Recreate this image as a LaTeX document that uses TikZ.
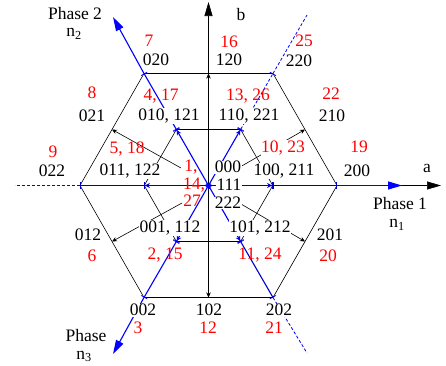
\documentclass[tikz,border=0pt]{standalone}
\usepackage{fontspec}
\setmainfont{Liberation Serif}
\usetikzlibrary{arrows.meta}
\begin{document}
\begin{tikzpicture}[x=1pt,y=-1pt,
  every node/.style={font=\rmfamily\fontsize{17.5}{19}\selectfont, inner sep=0.6pt},
  lab/.style={text=black},
  plab/.style={text=black, inner sep=0pt},
  wlab/.style={text=black, fill=white},
  num/.style={text=red},
  wnum/.style={text=red, fill=white},
  gridline/.style={black, line width=0.6pt},
  medvec/.style={black, line width=0.6pt, -{Stealth[length=5pt,width=4.5pt]}},
  smallvec/.style={blue, line width=1.1pt, {Bar[width=6pt,line width=0.7pt]}-{Stealth[length=5pt,width=5pt] Bar[width=7pt,line width=0.7pt]}},
  outseg/.style={blue, line width=1.1pt, {Bar[width=7pt,line width=0.7pt]}-{Bar[width=7pt,line width=0.7pt]}},
  dashseg/.style={blue, line width=0.8pt, dash pattern=on 3pt off 2pt},
  phasearrow/.style={blue, line width=1.1pt, -{Triangle[length=14pt,width=8pt]}},
  axisarrow/.style={black, line width=0.6pt, -{Triangle[length=14pt,width=8pt]}},
]
\useasboundingbox (0,0) rectangle (446,365);
% centre and vertices
\coordinate (O) at (208.5,185.5);
\coordinate (A200) at (337,185.5);
\coordinate (B220) at (273,73.5);
\coordinate (C020) at (144,73.5);
\coordinate (D022) at (80,185.5);
\coordinate (E002) at (144,297.5);
\coordinate (F202) at (273,297.5);
\coordinate (i100) at (272.75,185.5);
\coordinate (i110) at (240.6,129.5);
\coordinate (i010) at (176.4,129.5);
\coordinate (i011) at (144.25,185.5);
\coordinate (i001) at (176.4,241.5);
\coordinate (i101) at (240.6,241.5);
\coordinate (m210) at (305,129.5);
\coordinate (m120) at (208.5,73.5);
\coordinate (m021) at (112,129.5);
\coordinate (m012) at (112,241.5);
\coordinate (m102) at (208.5,297.5);
\coordinate (m201) at (305,241.5);
\coordinate (P1) at (402,185.5);
\coordinate (P2) at (113,17);
\coordinate (P3) at (113,354);
\coordinate (aend) at (441,185.5);
\coordinate (btop) at (208.5,2);
\coordinate (L180) at (15,185.5);
\coordinate (Q60) at (307,15);
\coordinate (Q300) at (307,353);
\coordinate (S021) at (181,168);
\coordinate (S012) at (182,203);
\coordinate (S210) at (240,167);
\coordinate (S201) at (241,204);

% hexagons
\draw[gridline] (A200) -- (B220) -- (C020) -- (D022) -- (E002) -- (F202) -- cycle;
\draw[gridline] (i100) -- (i110) -- (i010) -- (i011) -- (i001) -- (i101) -- cycle;
% axes
\draw[axisarrow] (D022) -- (aend);
\draw[axisarrow] (m120) -- (btop);
% medium vectors
\draw[medvec] (O) -- (m120);
\draw[medvec] (O) -- (m102);
\draw[medvec] (S210) -- (m210);
\draw[medvec] (S021) -- (m021);
\draw[medvec] (S012) -- (m012);
\draw[medvec] (S201) -- (m201);
% blue phase lines
\draw[outseg, blue!75!black] (i100) -- (A200);
\draw[outseg, blue!75!black] (i011) -- (D022);
\draw[outseg] (i010) -- (C020);
\draw[outseg] (i001) -- (E002);
\draw[outseg, blue!80!black] (i101) -- (F202);
\draw[dashseg, {Bar[width=7pt,line width=0.7pt]}-{Bar[width=7pt,line width=0.7pt]}] (i110) -- (B220);
\draw[phasearrow, blue] (A200) -- (P1);
\draw[phasearrow] (C020) -- (P2);
\draw[phasearrow] (E002) -- (P3);
\draw[dashseg] (D022) -- (L180);
\draw[dashseg] (B220) -- (Q60);
\draw[dashseg] (F202) -- (Q300);
\draw[smallvec, blue!75!black] (O) -- (i100);
\draw[smallvec, blue!75!black] (O) -- (i011);
\draw[smallvec] (O) -- (i010);
\draw[smallvec] (O) -- (i110);
\draw[smallvec] (O) -- (i001);
\draw[smallvec] (O) -- (i101);

% labels
\node[plab] (tPh2) at (75,14) {Phase 2};
\node[plab] (tn2) at (74,34) {n\textsubscript{2}};
\node[plab] (tPh1) at (400,204) {Phase 1};
\node[plab] (tn1) at (397,225) {n\textsubscript{1}};
\node[plab] (tPh3) at (86,336) {Phase};
\node[plab] (tn3) at (84,356.5) {n\textsubscript{3}};
\node[lab] (ta) at (427,168) {a};
\node[lab] (tb) at (241,15) {b};

\node[num] (r7) at (149,41) {7};
\node[wlab] (s020) at (156,60) {020};
\node[num] (r16) at (229,42) {16};
\node[lab] (s120) at (229,60) {120};
\node[num] (r25) at (304,41) {25};
\node[lab] (s220) at (299,61) {220};
\node[num] (r8) at (92,93) {8};
\node[lab] (s021) at (92,116) {021};
\node[num] (r417) at (161,96) {4, 17};
\node[wlab] (s010) at (169,116) {010, 121};
\node[num] (r1326) at (248,96) {13, 26};
\node[wlab] (s110) at (249,116) {110, 221};
\node[num] (r22) at (331,94) {22};
\node[lab] (s210) at (332,116) {210};
\node[num] (r9) at (53,152) {9};
\node[lab] (s022) at (52,171) {022};
\node[num] (r518) at (127,149) {5, 18};
\node[wlab] (s011) at (130,171) {011, 122};
\node[num, inner sep=0pt] (r1) at (191,167.5) {1,};
\node[num, inner sep=0pt] (r14) at (194,185) {14,};
\node[num] (r27) at (192,201) {27};
\node[wlab] (s000) at (228,167) {000};
\node[wlab] (s111) at (229,185) {111};
\node[wlab] (s222) at (228,203) {222};
\node[wnum] (r1023) at (283,148) {10, 23};
\node[wlab] (s100) at (284,171) {100, 211};
\node[num] (r19) at (359,147) {19};
\node[lab] (s200) at (357,171) {200};
\node[lab] (s012) at (88,235) {012};
\node[num] (r6) at (92,256) {6};
\node[wlab] (s001) at (170,228) {001, 112};
\node[num] (r215) at (165,255) {2, 15};
\node[wlab] (s101) at (260,228) {101, 212};
\node[num] (r1124) at (260,255) {11, 24};
\node[lab] (s201) at (330,235) {201};
\node[num] (r20) at (328,256) {20};
\node[wlab] (s002) at (143,310) {002};
\node[num] (r3) at (138,328) {3};
\node[lab] (s102) at (209,310) {102};
\node[num] (r12) at (208,328) {12};
\node[wlab] (s202) at (279,310) {202};
\node[num] (r21) at (274,328) {21};
\end{tikzpicture}
\end{document}
